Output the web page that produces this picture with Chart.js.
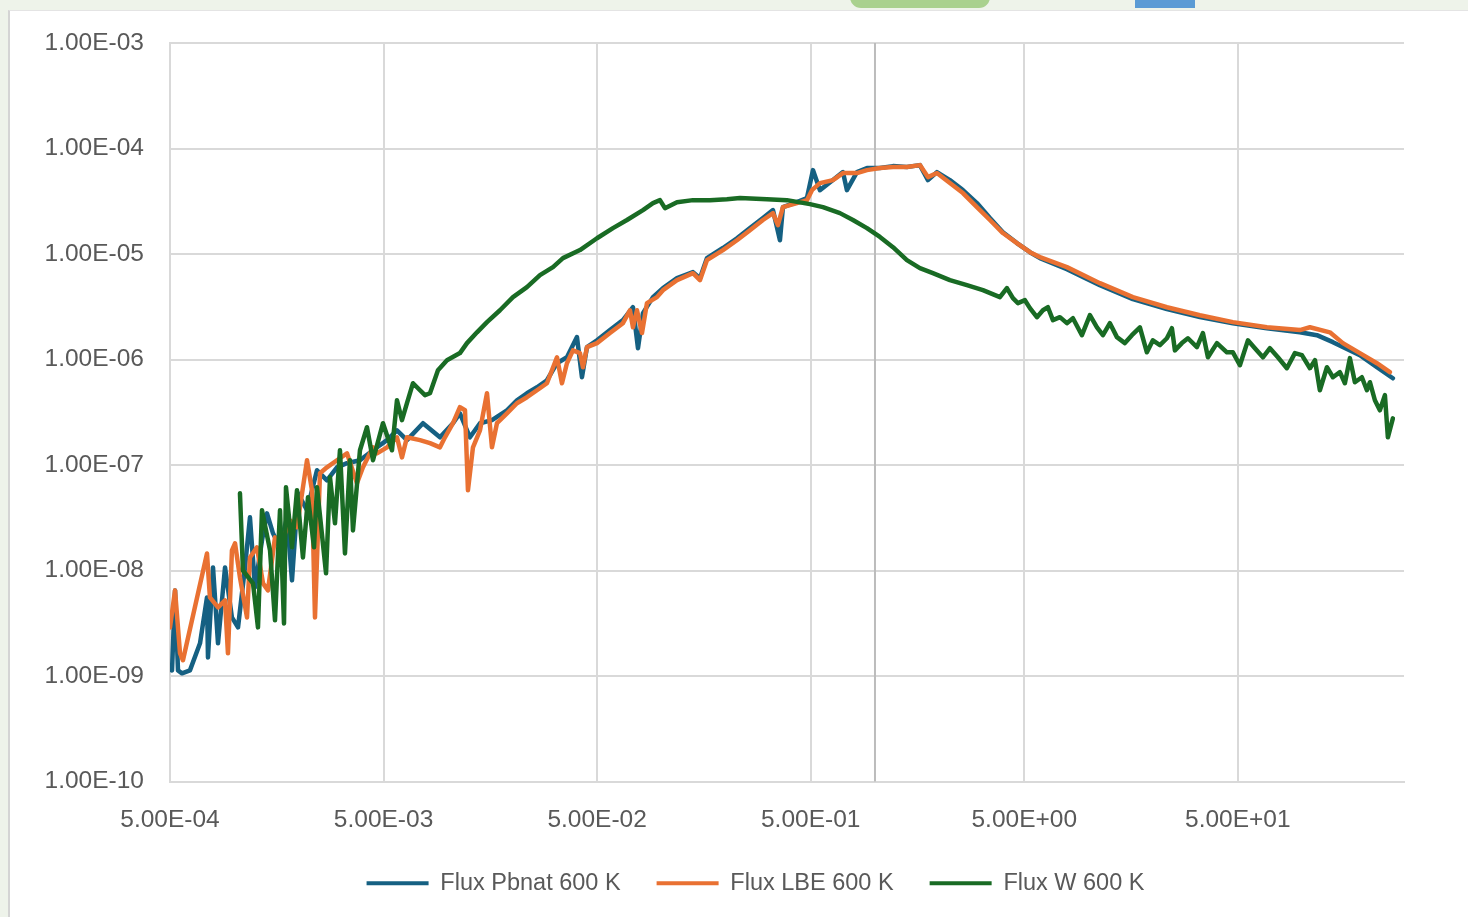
<!DOCTYPE html>
<html>
<head>
<meta charset="utf-8">
<script src="https://cdn.jsdelivr.net/npm/chart.js@4.4.1/dist/chart.umd.min.js"></script>
<style>
  html, body { margin: 0; padding: 0; overflow: hidden; }
  body { width: 1468px; height: 917px; background: #eef3ea; position: relative; }
  .card { position: absolute; left: 8px; top: 10px; right: 0; bottom: 0; background: #fff;
          border-left: 2px solid #d4d4d4; border-top: 1px solid #e4e4e4; }
  .pill { position: absolute; left: 850px; top: -14px; width: 140px; height: 22px; border-radius: 11px; background: #a9d18e; }
  .blk { position: absolute; left: 1135px; top: 0; width: 60px; height: 8px; background: #5b9bd5; }
  #chart { position: absolute; left: 0; top: 0; }
</style>
</head>
<body>
<div class="pill"></div>
<div class="blk"></div>
<div class="card"></div>
<canvas id="chart" width="1501" height="905"></canvas>
<script>
  const seriesNames = ["Flux Pbnat 600 K", "Flux LBE 600 K", "Flux W 600 K"];
  const seriesColors = ["#156082", "#e97132", "#196b24"];

  const xTicks = [5e-4, 5e-3, 5e-2, 5e-1, 5e0, 5e1];
  const yTicks = [1e-10, 1e-9, 1e-8, 1e-7, 1e-6, 1e-5, 1e-4, 1e-3];

  // energy (x) and flux (y)
  const pbE = [5.11e-4,5.28e-4,5.45e-4,5.69e-4,6.20e-4,6.91e-4,7.45e-4,7.53e-4,7.95e-4,8.39e-4,9.05e-4,9.75e-4,1.041e-3,1.122e-3,1.184e-3,1.250e-3,1.348e-3,1.423e-3,1.518e-3,1.637e-3,1.765e-3,1.863e-3,1.987e-3,2.190e-3,2.439e-3,2.716e-3,3.026e-3,3.370e-3,3.877e-3,4.461e-3,5.188e-3,5.778e-3,6.435e-3,7.647e-3,9.186e-3,1.057e-2,1.139e-2,1.269e-2,1.414e-2,1.609e-2,1.891e-2,2.106e-2,2.346e-2,2.615e-2,2.911e-2,3.243e-2,3.611e-2,4.023e-2,4.246e-2,4.482e-2,4.992e-2,5.742e-2,6.604e-2,7.359e-2,7.767e-2,8.196e-2,9.130e-2,0.1017,0.1183,0.1405,0.1515,0.1633,0.1941,0.2258,0.2598,0.2988,0.3329,0.3589,0.3707,0.4311,0.4802,0.5123,0.5525,0.6356,0.7079,0.7391,0.8233,0.9169,1.055,1.214,1.411,1.623,1.770,1.950,2.243,2.581,3.002,3.453,3.972,4.620,5.316,5.921,7.917,11.30,16.13,23.28,33.22,47.42,68.42,97.63,117.3,139.4,186.4,224.0,266.1];
  const pbFlux = [1.13e-9,6.48e-9,1.13e-9,1.06e-9,1.13e-9,2.04e-9,5.56e-9,1.50e-9,1.07e-8,2.04e-9,1.07e-8,3.59e-9,2.89e-9,1.07e-8,3.19e-8,6.92e-9,1.93e-8,3.48e-8,2.25e-8,1.66e-8,3.19e-8,8.06e-9,5.39e-8,3.72e-8,8.91e-8,7.16e-8,9.51e-8,1.04e-7,1.11e-7,1.38e-7,1.72e-7,2.13e-7,1.72e-7,2.49e-7,1.83e-7,2.49e-7,3.09e-7,1.83e-7,2.49e-7,2.66e-7,3.30e-7,4.11e-7,4.79e-7,5.46e-7,6.36e-7,9.22e-7,1.05e-6,1.63e-6,6.79e-7,1.31e-6,1.52e-6,1.90e-6,2.36e-6,3.13e-6,1.28e-6,2.75e-6,3.90e-6,4.75e-6,5.90e-6,6.73e-6,5.90e-6,9.14e-6,1.14e-5,1.41e-5,1.76e-5,2.19e-5,2.61e-5,1.35e-5,2.78e-5,3.10e-5,3.39e-5,6.24e-5,4.03e-5,5.02e-5,5.98e-5,4.03e-5,5.98e-5,6.52e-5,6.52e-5,6.81e-5,6.67e-5,6.96e-5,5.02e-5,5.98e-5,5.02e-5,4.03e-5,3.04e-5,2.19e-5,1.61e-5,1.27e-5,1.04e-5,9.14e-6,7.18e-6,5.07e-6,3.73e-6,3.00e-6,2.52e-6,2.21e-6,1.98e-6,1.81e-6,1.70e-6,1.46e-6,1.10e-6,8.45e-7,6.64e-7];

  const lbeE = [5.00e-4,5.28e-4,5.57e-4,5.75e-4,7.45e-4,7.69e-4,8.39e-4,9.05e-4,9.34e-4,9.75e-4,1.008e-3,1.063e-3,1.147e-3,1.184e-3,1.277e-3,1.363e-3,1.438e-3,1.551e-3,1.637e-3,1.823e-3,1.966e-3,2.190e-3,2.311e-3,2.387e-3,2.519e-3,2.716e-3,3.026e-3,3.370e-3,3.753e-3,4.005e-3,4.461e-3,4.658e-3,5.188e-3,5.778e-3,6.098e-3,6.435e-3,7.405e-3,8.247e-3,9.186e-3,9.694e-3,1.057e-2,1.139e-2,1.203e-2,1.242e-2,1.311e-2,1.414e-2,1.525e-2,1.609e-2,1.698e-2,1.891e-2,2.106e-2,2.346e-2,2.615e-2,2.911e-2,3.243e-2,3.422e-2,3.611e-2,3.853e-2,4.156e-2,4.292e-2,4.482e-2,4.992e-2,5.742e-2,6.604e-2,7.124e-2,7.359e-2,7.683e-2,8.108e-2,8.557e-2,9.530e-2,0.1017,0.1183,0.1405,0.1515,0.1633,0.1941,0.2258,0.2598,0.2988,0.3329,0.3512,0.3707,0.4311,0.4802,0.5068,0.5525,0.6356,0.7079,0.8233,0.9169,1.055,1.214,1.411,1.623,1.770,1.950,2.243,2.581,3.002,3.453,3.972,4.620,5.316,5.921,7.917,11.30,16.13,23.28,33.22,47.42,68.42,97.63,108.8,134.9,155.2,186.4,224.0,257.6];
  const lbeFlux = [2.89e-9,6.48e-9,1.64e-9,1.41e-9,1.45e-8,5.56e-9,4.47e-9,5.21e-9,1.64e-9,1.55e-8,1.81e-8,8.61e-9,3.59e-9,1.33e-8,1.66e-8,7.55e-9,6.48e-9,2.06e-8,1.66e-8,2.99e-8,2.57e-8,1.11e-7,5.76e-8,3.59e-9,8.35e-8,9.51e-8,1.11e-7,1.29e-7,6.71e-8,9.51e-8,1.47e-7,1.29e-7,1.47e-7,1.83e-7,1.18e-7,1.83e-7,1.72e-7,1.61e-7,1.47e-7,1.83e-7,2.49e-7,3.53e-7,3.30e-7,5.76e-8,1.47e-7,2.13e-7,4.79e-7,1.47e-7,2.49e-7,3.09e-7,3.85e-7,4.39e-7,5.11e-7,5.96e-7,1.05e-6,5.96e-7,9.22e-7,1.22e-6,1.15e-6,8.45e-7,1.31e-6,1.43e-6,1.78e-6,2.21e-6,2.93e-6,2.02e-6,2.93e-6,1.78e-6,3.42e-6,3.90e-6,4.54e-6,5.65e-6,6.58e-6,5.65e-6,8.74e-6,1.09e-5,1.35e-5,1.68e-5,2.10e-5,2.44e-5,1.88e-5,2.78e-5,3.04e-5,3.24e-5,4.03e-5,4.70e-5,5.02e-5,5.85e-5,5.85e-5,6.24e-5,6.52e-5,6.67e-5,6.67e-5,6.96e-5,5.36e-5,5.85e-5,4.70e-5,3.78e-5,2.78e-5,2.10e-5,1.58e-5,1.27e-5,1.04e-5,9.34e-6,7.51e-6,5.29e-6,3.90e-6,3.13e-6,2.63e-6,2.26e-6,2.02e-6,1.90e-6,2.02e-6,1.81e-6,1.43e-6,1.15e-6,9.22e-7,7.58e-7];

  const wE = [1.063e-3,1.098e-3,1.224e-3,1.291e-3,1.348e-3,1.470e-3,1.551e-3,1.637e-3,1.709e-3,1.746e-3,1.863e-3,1.966e-3,2.097e-3,2.214e-3,2.362e-3,2.439e-3,2.689e-3,2.806e-3,2.961e-3,3.125e-3,3.298e-3,3.480e-3,3.595e-3,3.877e-3,4.181e-3,4.461e-3,4.969e-3,5.475e-3,5.778e-3,6.098e-3,6.435e-3,6.867e-3,7.247e-3,7.814e-3,8.247e-3,8.989e-3,9.906e-3,1.139e-2,1.229e-2,1.369e-2,1.525e-2,1.754e-2,2.018e-2,2.346e-2,2.700e-2,3.106e-2,3.459e-2,4.156e-2,4.992e-2,5.930e-2,6.898e-2,8.196e-2,9.130e-2,9.844e-2,0.1039,0.1183,0.1405,0.1687,0.2026,0.2332,0.3120,0.3870,0.4959,0.5706,0.6853,0.7885,0.9169,1.055,1.214,1.411,1.623,1.867,2.243,2.694,3.202,
    3.846,4.147,4.425,4.670,5.036,5.316,5.732,6.114,6.453,6.812,7.345,7.917,8.451,9.311,10.15,10.95,11.68,12.59,13.58,14.80,15.96,17.40,18.76,20.01,21.59,23.28,24.57,25.38,27.36,29.20,32.17,34.31,36.23,39.92,44.45,47.42,51.14,55.75,60.10,65.54,70.68,77.02,84.87,92.52,99.77,108.8,114.9,121.1,130.7,139.4,150.3,158.6,167.4,176.7,190.5,201.1,207.7,219.2,231.3,244.2,252.1,266.1];
  const wFlux = [5.39e-8,1.00e-8,7.55e-9,2.89e-9,3.72e-8,1.55e-8,3.37e-9,3.72e-8,3.15e-9,6.15e-8,1.66e-8,5.76e-8,1.33e-8,4.94e-8,1.66e-8,6.15e-8,9.40e-9,7.65e-8,2.80e-8,1.38e-7,1.45e-8,1.11e-7,2.40e-8,1.38e-7,2.28e-7,1.11e-7,2.49e-7,1.38e-7,4.11e-7,2.66e-7,3.85e-7,5.96e-7,5.34e-7,4.59e-7,4.79e-7,7.91e-7,9.85e-7,1.15e-6,1.43e-6,1.81e-6,2.26e-6,2.93e-6,3.90e-6,4.85e-6,6.30e-6,7.51e-6,9.14e-6,1.09e-5,1.41e-5,1.76e-5,2.10e-5,2.61e-5,3.04e-5,3.24e-5,2.72e-5,3.10e-5,3.24e-5,3.24e-5,3.31e-5,3.39e-5,3.31e-5,3.24e-5,2.97e-5,2.78e-5,2.44e-5,2.10e-5,1.76e-5,1.45e-5,1.16e-5,8.74e-6,7.34e-6,6.58e-6,5.65e-6,5.07e-6,4.54e-6,
    3.90e-6,4.75e-6,3.81e-6,3.42e-6,3.65e-6,3.07e-6,2.52e-6,2.93e-6,3.13e-6,2.36e-6,2.52e-6,2.21e-6,2.46e-6,1.70e-6,2.63e-6,2.02e-6,1.70e-6,2.21e-6,1.63e-6,1.43e-6,1.70e-6,2.02e-6,1.17e-6,1.52e-6,1.37e-6,1.59e-6,1.98e-6,1.22e-6,1.43e-6,1.59e-6,1.31e-6,1.78e-6,1.05e-6,1.43e-6,1.17e-6,1.17e-6,8.83e-7,1.52e-6,1.28e-6,1.05e-6,1.28e-6,1.05e-6,8.27e-7,1.15e-6,1.10e-6,8.27e-7,9.85e-7,5.11e-7,8.45e-7,6.79e-7,7.58e-7,5.96e-7,1.03e-6,6.09e-7,6.79e-7,5.11e-7,6.09e-7,4.11e-7,3.30e-7,4.59e-7,1.83e-7,2.77e-7];

  function toPoints(xs, ys) {
    const n = Math.min(xs.length, ys.length);
    const pts = [];
    for (let i = 0; i < n; i++) pts.push({ x: xs[i], y: ys[i] });
    return pts;
  }

  function sci(v) {
    const e = Math.floor(Math.log10(v) + 1e-9);
    const m = v / Math.pow(10, e);
    const sign = e < 0 ? "-" : "+";
    return m.toFixed(2) + "E" + sign + String(Math.abs(e)).padStart(2, "0");
  }

  const gridColor = "#d9d9d9";
  const textColor = "#595959";

  // darker vertical line where the value axis crosses (x = 1)
  const crossLine = {
    id: "crossLine",
    beforeDatasetsDraw(chart) {
      const { ctx, chartArea, scales } = chart;
      const px = scales.x.getPixelForValue(1);
      ctx.save();
      ctx.strokeStyle = "#bcbcbc";
      ctx.lineWidth = 2;
      ctx.beginPath();
      ctx.moveTo(px, chartArea.top);
      ctx.lineTo(px, chartArea.bottom);
      ctx.stroke();
      ctx.restore();
    }
  };

  const sets = [
    { e: pbE, f: pbFlux, order: 3 },
    { e: lbeE, f: lbeFlux, order: 2 },
    { e: wE, f: wFlux, order: 1 }
  ];

  new Chart(document.getElementById("chart"), {
    type: "line",
    data: {
      datasets: sets.map((s, i) => ({
        label: seriesNames[i],
        data: toPoints(s.e, s.f),
        borderColor: seriesColors[i],
        backgroundColor: seriesColors[i],
        borderWidth: 4.5,
        borderJoinStyle: "round",
        borderCapStyle: "round",
        pointRadius: 0,
        tension: 0,
        order: s.order
      }))
    },
    options: {
      responsive: false,
      animation: false,
      layout: { padding: { left: 10, right: 0, top: 43, bottom: 0 } },
      scales: {
        x: {
          type: "logarithmic",
          min: 5e-4,
          max: 300,
          afterBuildTicks: (scale) => { scale.ticks = xTicks.map((v) => ({ value: v })); },
          afterFit: (scale) => { scale.height = 54; },
          ticks: {
            callback: (v) => sci(v),
            color: textColor,
            font: { family: "Liberation Sans", size: 24.5 },
            padding: 24,
            maxRotation: 0,
            autoSkip: false
          },
          grid: { color: gridColor, lineWidth: 2, drawTicks: false },
          border: { color: gridColor, width: 2 }
        },
        y: {
          type: "logarithmic",
          min: 1e-10,
          max: 1e-3,
          afterBuildTicks: (scale) => { scale.ticks = yTicks.map((v) => ({ value: v })); },
          afterFit: (scale) => { scale.width = 160; },
          ticks: {
            callback: (v) => sci(v),
            color: textColor,
            font: { family: "Liberation Sans", size: 24.5 },
            padding: 26,
            autoSkip: false
          },
          grid: { color: gridColor, lineWidth: 2, drawTicks: false },
          border: { color: gridColor, width: 2 }
        },
        // empty spacer on the right so the legend centres like the original
        spacer: {
          type: "linear",
          position: "right",
          display: true,
          afterFit: (scale) => { scale.width = 97; },
          ticks: { display: false },
          grid: { display: false, drawTicks: false },
          border: { display: false }
        }
      },
      plugins: {
        tooltip: { enabled: false },
        legend: {
          position: "bottom",
          labels: {
            boxWidth: 62,
            boxHeight: 4,
            padding: 36,
            color: textColor,
            font: { family: "Liberation Sans", size: 23.5 },
            sort: (a, b) => a.datasetIndex - b.datasetIndex,
            generateLabels: (chart) =>
              Chart.defaults.plugins.legend.labels.generateLabels(chart).map((l) => ({ ...l, lineWidth: 0 }))
          }
        }
      }
    },
    plugins: [crossLine]
  });
</script>
</body>
</html>
